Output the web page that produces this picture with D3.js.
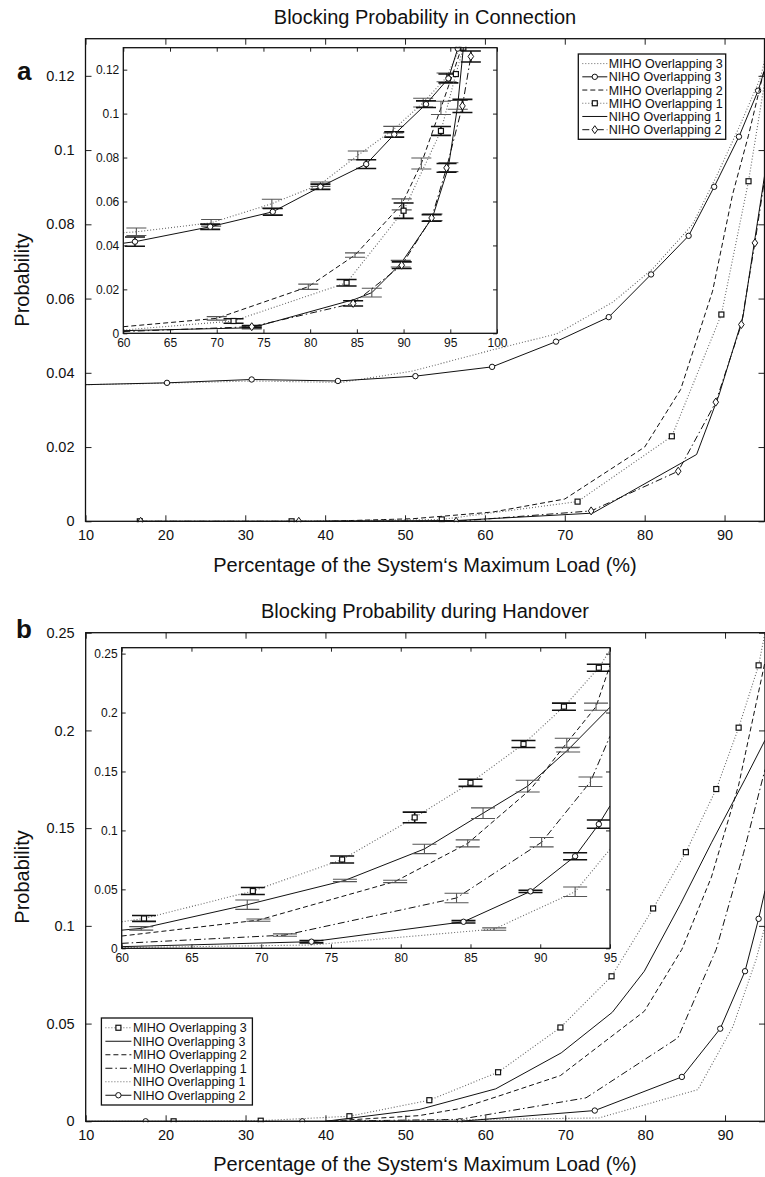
<!DOCTYPE html>
<html>
<head>
<meta charset="utf-8">
<script src="https://cdn.jsdelivr.net/npm/d3@7"></script>
<style>body{margin:0;background:#fff}</style>
</head>
<body>
<svg id="fig" width="765" height="1177"></svg>
<script>
// ---- panel a : blocking probability in connection (main, [load %, prob]) ----
var aMiho3 = [[10,0.0368],[20,0.0372],[31,0.0378],[42,0.0374],[51,0.0405],[61,0.0462],[69,0.0505],[76,0.0590],[81,0.0680],[86,0.0800],[89,0.0930],[92,0.1070],[94.5,0.1195],[95,0.124]];
var aNiho3 = [[10,0.0368],[20.2,0.0373],[30.8,0.0382],[41.6,0.0378],[51.3,0.0391],[60.9,0.0416],[68.9,0.0484],[75.5,0.0550],[80.8,0.0665],[85.5,0.0769],[88.7,0.0901],[91.8,0.1036],[94.2,0.1160],[95,0.1215]];
var aMiho2 = [[40,0],[51,0.0007],[61,0.0025],[70,0.0060],[80,0.0200],[84.5,0.0355],[88.5,0.0620],[91,0.0880],[93,0.1040],[95,0.1220]];
var aMiho1 = [[16.8,0],[35.8,0],[54.6,0.0005],[71.6,0.0053],[83.4,0.0229],[89.6,0.0557],[93,0.0916],[95,0.1180]];
var aNiho1 = [[17,0],[37,0],[56.4,0.0002],[73.5,0.0022],[86.5,0.0180],[89.3,0.0340],[92.3,0.0550],[95,0.0930]];
var aNiho2 = [[16.9,0],[36.7,0],[56.4,0],[73.3,0.0028],[84.2,0.0135],[88.9,0.0321],[92.1,0.0530],[93.8,0.0750],[95,0.0920]];

// panel a inset ([load %, prob, error])
var iaMiho3 = [[60,0.0458,0],[61.4,0.0462,0.0017],[69.4,0.0503,0.0015],[75.9,0.0590,0.0020],[81.1,0.0679,0.0010],[85.1,0.0810,0.0020],[88.9,0.0927,0.0015],[92.1,0.1050,0.0020],[94.6,0.1165,0.0020],[96,0.1300,0]];
var iaNiho3 = [[60,0.0410,0],[61.25,0.0417,0.0021],[69.3,0.0485,0.0012],[76,0.0553,0.0015],[81.1,0.0667,0.0012],[86,0.0770,0.0020],[89,0.0905,0.0012],[92.4,0.1043,0.0015],[94.8,0.1160,0.0020],[95.8,0.1296,0]];
var iaMiho2 = [[60,0.0030,0],[70,0.0068,0.0008],[79.8,0.0212,0.0012],[84.8,0.0356,0.0010],[89.8,0.0587,0.0025],[91.9,0.0773,0.0025],[94,0.1026,0.0030],[95.5,0.1210,0],[96.2,0.1300,0]];
var iaMiho1 = [[60,0.0015,0],[71.8,0.0056,0.0010],[83.9,0.0230,0.0015],[90,0.0558,0.0035],[94,0.0921,0.0020],[95.6,0.1180,0],[96.4,0.1300,0]];
var iaNiho1 = [[60,0.0012,0],[73.75,0.0025,0.0005],[84.8,0.0155,0],[86.6,0.0185,0.0020],[89.7,0.0317,0.0015],[93.1,0.0528,0.0015],[94.8,0.0756,0.0020],[95.8,0.1040,0.0020],[96.4,0.1300,0]];
var iaNiho2 = [[60,0.0008,0],[73.75,0.0030,0.0005],[84.6,0.0136,0.0012],[89.8,0.0310,0.0015],[93,0.0525,0.0015],[94.6,0.0753,0.0020],[96.3,0.1035,0.0030],[97.2,0.1260,0.0025]];

// ---- panel b : blocking probability during handover ----
var bMiho3 = [[10,0],[21,0],[31.9,0.0003],[43,0.0026],[53,0.0108],[61.6,0.0251],[69.4,0.0480],[75.8,0.0742],[81,0.1089],[85.1,0.1377],[88.9,0.1700],[91.7,0.2014],[94.2,0.2333],[95,0.2500]];
var bNiho3 = [[40,0],[51.7,0.0060],[61.3,0.0166],[69.5,0.0350],[75.9,0.0558],[79.9,0.0768],[84.4,0.1110],[88.3,0.1425],[92.5,0.1750],[95,0.1950]];
var bMiho2 = [[40,0],[51.7,0.0029],[56.8,0.0065],[61.6,0.0128],[69.4,0.0234],[79.9,0.0563],[84.6,0.0880],[88.3,0.1250],[91.7,0.1720],[95,0.2350]];
var bMiho1 = [[40,0],[56.8,0.0010],[72.6,0.0120],[84.1,0.0427],[88.9,0.0880],[92.3,0.1370],[95,0.1800]];
var bNiho1 = [[40,0],[74.2,0.0017],[86.6,0.0162],[91,0.0486],[93.9,0.0830],[95,0.1000]];
var bNiho2 = [[10,0],[17.5,0],[37.1,0],[56.8,0],[73.7,0.0055],[84.6,0.0227],[89.4,0.0474],[92.5,0.0768],[94.2,0.1036],[95,0.1180]];

// panel b inset
var ibMiho3 = [[60,0.0225,0],[61.6,0.0253,0.0025],[69.4,0.0486,0.0030],[75.8,0.0753,0.0030],[81,0.1110,0.0045],[85,0.1404,0.0030],[88.8,0.1733,0.0030],[91.7,0.2050,0.0030],[94.2,0.2380,0.0030],[95,0.2530,0]];
var ibNiho3 = [[60,0.0154,0],[61.4,0.0169,0.0015],[69,0.0370,0.0040],[76,0.0576,0.0010],[81.7,0.0843,0.0040],[85.9,0.1146,0.0045],[89.1,0.1376,0.0050],[92,0.1685,0.0020],[95,0.2045,0]];
var ibMiho2 = [[60,0.0104,0],[69.8,0.0239,0.0010],[79.6,0.0567,0.0010],[84.8,0.0890,0.0030],[89.3,0.1348,0],[91.9,0.1742,0.0040],[94,0.2050,0.0030],[95,0.2400,0]];
var ibMiho1 = [[60,0.0042,0],[71.7,0.0112,0.0010],[84,0.0427,0.0040],[90.1,0.0900,0.0040],[93.6,0.1413,0.0040],[95,0.1800,0]];
var ibNiho1 = [[60,0.0006,0],[73.6,0.0028,0],[86.7,0.0163,0.0010],[92.5,0.0480,0.0040],[95,0.0840,0]];
var ibNiho2 = [[60,0.0014,0],[73.6,0.0056,0.0010],[84.5,0.0225,0.0010],[89.3,0.0483,0.0010],[92.5,0.0781,0.0030],[94.2,0.1053,0.0035],[95,0.1208,0]];

var aTitle = "Blocking Probability in Connection",
    bTitle = "Blocking Probability during Handover",
    xTitle = "Percentage of the System\u2018s Maximum Load (%)",
    yTitle = "Probability";

var xTicksMain = [10,20,30,40,50,60,70,80,90],
    yTicksA = [0,0.02,0.04,0.06,0.08,0.1,0.12],
    xTicksInsetA = [60,65,70,75,80,85,90,95,100],
    yTicksB = [0,0.05,0.1,0.15,0.2,0.25],
    xTicksInsetB = [60,65,70,75,80,85,90,95];

var FONT = "'Liberation Sans', Arial, Helvetica, sans-serif";
var dashes = {solid: null, dotted: "1,2", dashed: "5,3", dashdot: "7,3,1.5,3"};

var svg = d3.select("#fig");
var clipId = 0;

function fmt(d) { return String(+d.toFixed(3)); }

function makeAxes(box, xDom, yDom) {
    var x = d3.scaleLinear().domain(xDom).range([box.left, box.right]);
    var y = d3.scaleLinear().domain(yDom).range([box.bottom, box.top]);
    var g = svg.append("g");
    g.append("rect")
        .attr("x", box.left).attr("y", box.top)
        .attr("width", box.right - box.left).attr("height", box.bottom - box.top)
        .attr("fill", "#fff");
    var id = "clip" + (clipId++);
    g.append("clipPath").attr("id", id).append("rect")
        .attr("x", box.left).attr("y", box.top - 1)
        .attr("width", box.right - box.left).attr("height", box.bottom - box.top + 2);
    var plot = g.append("g").attr("clip-path", "url(#" + id + ")");
    return {g: g, plot: plot, x: x, y: y, box: box};
}

function finishAxes(ax, xTicks, yTicks, o) {
    var b = ax.box, g = ax.g;
    var bottom = g.append("g").attr("transform", "translate(0," + b.bottom + ")")
        .call(d3.axisBottom(ax.x).tickValues(xTicks).tickSize(-o.tick).tickPadding(o.xPad).tickFormat(fmt));
    var top = g.append("g").attr("transform", "translate(0," + b.top + ")")
        .call(d3.axisTop(ax.x).tickValues(xTicks).tickSize(-o.tick).tickFormat(""));
    var left = g.append("g").attr("transform", "translate(" + b.left + ",0)")
        .call(d3.axisLeft(ax.y).tickValues(yTicks).tickSize(-o.tick).tickPadding(o.yPad).tickFormat(fmt));
    var right = g.append("g").attr("transform", "translate(" + b.right + ",0)")
        .call(d3.axisRight(ax.y).tickValues(yTicks).tickSize(-o.tick).tickFormat(""));
    [bottom, top, left, right].forEach(function(a) {
        a.select(".domain").remove();
        a.attr("font-family", FONT).attr("font-size", o.font);
        a.selectAll("line").attr("stroke", "#222");
        a.selectAll("text").attr("fill", "#111");
    });
    g.append("rect")
        .attr("x", b.left).attr("y", b.top)
        .attr("width", b.right - b.left).attr("height", b.bottom - b.top)
        .attr("fill", "none").attr("stroke", "#111").attr("stroke-width", 1.3);
}

function marker(sel, type, cx, cy) {
    if (type === "o") {
        sel.append("circle").attr("cx", cx).attr("cy", cy).attr("r", 2.7)
            .attr("fill", "#fff").attr("stroke", "#111").attr("stroke-width", 1);
    } else if (type === "s") {
        sel.append("rect").attr("x", cx - 2.5).attr("y", cy - 2.5).attr("width", 5).attr("height", 5)
            .attr("fill", "#fff").attr("stroke", "#111").attr("stroke-width", 1.2);
    } else if (type === "d") {
        sel.append("path").attr("d", "M" + cx + "," + (cy - 4) + "L" + (cx + 2.8) + "," + cy + "L" + cx + "," + (cy + 4) + "L" + (cx - 2.8) + "," + cy + "Z")
            .attr("fill", "#fff").attr("stroke", "#111").attr("stroke-width", 1);
    }
}

function drawSeries(ax, s, capW) {
    var x = ax.x, y = ax.y, dom = x.domain();
    var col = s.style === "dotted" ? "#666" : "#111";
    var line = d3.line().x(function(d) { return x(d[0]); }).y(function(d) { return y(d[1]); });
    ax.plot.append("path").datum(s.data)
        .attr("d", line)
        .attr("fill", "none")
        .attr("stroke", col)
        .attr("stroke-width", s.style === "dotted" ? 1.1 : 1)
        .attr("stroke-dasharray", dashes[s.style]);
    if (capW) {
        s.data.forEach(function(d) {
            if (!d[2]) return;
            var eb = ax.plot.append("g")
                .attr("stroke", s.bold ? "#111" : "#555")
                .attr("stroke-width", s.bold ? 1.6 : 1.1);
            eb.append("line").attr("x1", x(d[0])).attr("x2", x(d[0])).attr("y1", y(d[1] - d[2])).attr("y2", y(d[1] + d[2]));
            eb.append("line").attr("x1", x(d[0]) - capW / 2).attr("x2", x(d[0]) + capW / 2).attr("y1", y(d[1] - d[2])).attr("y2", y(d[1] - d[2]));
            eb.append("line").attr("x1", x(d[0]) - capW / 2).attr("x2", x(d[0]) + capW / 2).attr("y1", y(d[1] + d[2])).attr("y2", y(d[1] + d[2]));
        });
    }
    if (s.marker) {
        s.data.forEach(function(d) {
            if (d[0] <= dom[0] || d[0] >= dom[1] || d[1] > y.domain()[1]) return;
            marker(ax.plot, s.marker, x(d[0]), y(d[1]));
        });
    }
}

function drawLegend(box, rows, names) {
    var g = svg.append("g");
    g.append("rect").attr("x", box.left).attr("y", box.top)
        .attr("width", box.right - box.left).attr("height", box.bottom - box.top)
        .attr("fill", "#fff").attr("stroke", "#111").attr("stroke-width", 1.3);
    var step = (box.bottom - box.top - 6) / rows.length;
    rows.forEach(function(s, i) {
        var cy = box.top + 3 + step * (i + 0.5);
        g.append("line").attr("x1", box.left + 4).attr("x2", box.left + box.sample).attr("y1", cy).attr("y2", cy)
            .attr("stroke", s.style === "dotted" ? "#666" : "#111").attr("stroke-width", 1)
            .attr("stroke-dasharray", dashes[s.style]);
        if (s.marker) marker(g, s.marker, box.left + 4 + (box.sample - 4) / 2, cy);
        g.append("text").attr("x", box.left + box.sample + 1.5).attr("y", cy).attr("dy", "0.36em")
            .attr("font-family", FONT).attr("font-size", 12.5).attr("fill", "#111")
            .text(names[i]);
    });
}

function label(x, y, txt, size, opts) {
    var t = svg.append("text").attr("x", x).attr("y", y)
        .attr("font-family", FONT).attr("font-size", size).attr("fill", "#111").text(txt);
    if (opts && opts.anchor) t.attr("text-anchor", opts.anchor);
    if (opts && opts.bold) t.attr("font-weight", "bold");
    if (opts && opts.rotate) t.attr("transform", "rotate(-90," + x + "," + y + ")");
    return t;
}

// ================= panel a =================
var mainA = makeAxes({left: 85.5, right: 764.5, top: 38.7, bottom: 521.3}, [10, 95], [0, 0.13]);
var seriesA = [
    {data: aMiho3, style: "dotted"},
    {data: aNiho3, style: "solid", marker: "o"},
    {data: aMiho2, style: "dashed"},
    {data: aMiho1, style: "dotted", marker: "s"},
    {data: aNiho1, style: "solid"},
    {data: aNiho2, style: "dashdot", marker: "d"}
];
seriesA.forEach(function(s) { drawSeries(mainA, s, 0); });
finishAxes(mainA, xTicksMain, yTicksA, {tick: 6, font: 14.5, xPad: 8.5, yPad: 11});
drawLegend({left: 578.3, right: 725.7, top: 54, bottom: 139.3, sample: 29}, seriesA,
    ["MIHO Overlapping 3", "NIHO Overlapping 3", "MIHO Overlapping 2", "MIHO Overlapping 1", "NIHO Overlapping 1", "NIHO Overlapping 2"]);

var insetA = makeAxes({left: 123.3, right: 497, top: 47.7, bottom: 333.3}, [60, 100], [0, 0.13]);
[
    {data: iaMiho3, style: "dotted"},
    {data: iaNiho3, style: "solid", marker: "o", bold: true},
    {data: iaMiho2, style: "dashed"},
    {data: iaMiho1, style: "dotted", marker: "s", bold: true},
    {data: iaNiho1, style: "solid"},
    {data: iaNiho2, style: "dashdot", marker: "d", bold: true}
].forEach(function(s) { drawSeries(insetA, s, 20); });
finishAxes(insetA, xTicksInsetA, yTicksA, {tick: 4, font: 12, xPad: 5.5, yPad: 4});

label(425, 24, aTitle, 20, {anchor: "middle"});
label(425, 572, xTitle, 20, {anchor: "middle"});
label(29, 280, yTitle, 20, {anchor: "middle", rotate: true});
label(17, 80, "a", 26, {bold: true});

// ================= panel b =================
var mainB = makeAxes({left: 85.7, right: 765, top: 632.7, bottom: 1121.3}, [10, 95], [0, 0.25]);
var seriesB = [
    {data: bMiho3, style: "dotted", marker: "s"},
    {data: bNiho3, style: "solid"},
    {data: bMiho2, style: "dashed"},
    {data: bMiho1, style: "dashdot"},
    {data: bNiho1, style: "dotted"},
    {data: bNiho2, style: "solid", marker: "o"}
];
seriesB.forEach(function(s) { drawSeries(mainB, s, 0); });
finishAxes(mainB, xTicksMain, yTicksB, {tick: 6, font: 14.5, xPad: 8.5, yPad: 11});
drawLegend({left: 101.4, right: 252.4, top: 1018, bottom: 1105, sample: 30}, seriesB,
    ["MIHO Overlapping 3", "NIHO Overlapping 3", "MIHO Overlapping 2", "MIHO Overlapping 1", "NIHO Overlapping 1", "NIHO Overlapping 2"]);

var insetB = makeAxes({left: 121.7, right: 610, top: 647.7, bottom: 948.3}, [60, 95], [0, 0.255]);
[
    {data: ibMiho3, style: "dotted", marker: "s", bold: true},
    {data: ibNiho3, style: "solid"},
    {data: ibMiho2, style: "dashed"},
    {data: ibMiho1, style: "dashdot"},
    {data: ibNiho1, style: "dotted"},
    {data: ibNiho2, style: "solid", marker: "o", bold: true}
].forEach(function(s) { drawSeries(insetB, s, 24); });
finishAxes(insetB, xTicksInsetB, yTicksB, {tick: 4, font: 12, xPad: 5.5, yPad: 4});

label(425, 618, bTitle, 20, {anchor: "middle"});
label(425, 1171, xTitle, 20, {anchor: "middle"});
label(29, 877, yTitle, 20, {anchor: "middle", rotate: true});
label(16, 638, "b", 26, {bold: true});
</script>
</body>
</html>
